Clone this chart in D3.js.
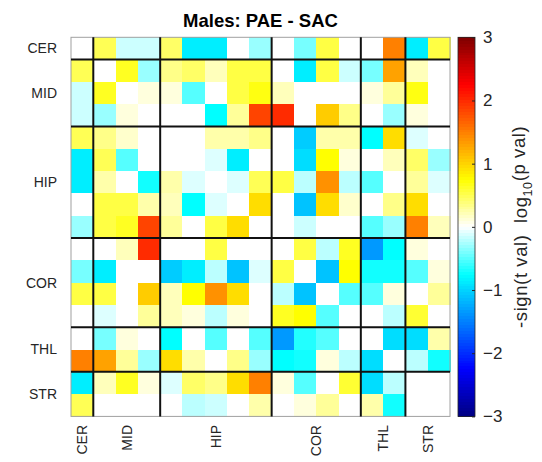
<!DOCTYPE html>
<html>
<head>
<meta charset="utf-8">
<script src="https://cdn.jsdelivr.net/npm/d3@7"></script>
<style>
  body { margin: 0; background: #fff; }
  text { font-family: "Liberation Sans", Arial, sans-serif; }
</style>
</head>
<body>
<svg id="chart" width="542" height="462"></svg>
<script>
// region names and how many rows/cols each one takes
const regions = ["CER", "MID", "HIP", "COR", "THL", "STR"];
const regionSizes = [1, 3, 5, 4, 2, 2];

// -sign(t) log10(p), row by row (17 x 17)
const values = [
  [0, 0.5, -0.15, -0.15, 0.45, -0.85, -0.85, 0, -0.3, 0, -0.4, 0.55, 0, 0, 1.5, -0.85, 0.55],
  [0.5, 0, 0.65, -0.3, 0.35, 0.45, 0.2, 0.55, 0.55, 0, -0.85, 0.55, -0.15, -0.4, 1.3, 0.2, 0],
  [-0.15, 0.65, 0, 0.1, 0.1, -0.5, 0, 0.55, 0.7, 0.2, 0, 0, 0, 0.1, 0.3, 0.7, 0],
  [-0.15, -0.3, 0.1, 0, 0, 0, -0.75, 0.3, 1.85, 2.0, 0, 1.05, 0.35, 0, -0.3, 0.1, 0],
  [0.5, 0.35, 0.15, 0, 0, 0, 0.25, 0.25, 0.35, 0, -1.05, 0.25, 0.25, -0.75, 0.95, -0.1, 0],
  [-0.85, 0.5, -0.5, 0, 0, 0, -0.1, -0.85, 0, 0, -0.95, 0.75, 0.1, 0, 0.2, 0.45, -0.3],
  [-0.85, 0.25, 0, -0.7, 0.25, -0.1, 0, -0.1, 0.5, 0.55, -0.2, 1.4, -0.2, -0.5, 0, 0.3, -0.1],
  [0, 0.55, 0.55, 0.25, 0.2, -0.75, -0.1, 0, 0.95, 0, -1.1, 0.95, 0.15, 0, 0.35, 0.95, 0],
  [-0.3, 0.55, 0.65, 1.85, 0.3, 0, 0.55, 0.95, 0, 0, -0.15, 0, 0, -0.5, -0.3, 1.5, 0.2],
  [0, 0, 0.2, 2.0, 0, 0, 0.55, 0, 0, 0, 0.55, -0.2, 0.65, -1.35, -0.75, 0.1, 0],
  [-0.4, -0.85, 0, 0, -1.05, -0.85, -0.2, -1.1, -0.1, 0.55, 0, -1.1, 0.75, -0.7, -0.7, -0.5, 0.1],
  [0.55, 0.55, 0, 1.05, 0.2, 0.75, 1.4, 0.95, 0, -0.2, -1.1, 0, -0.5, -0.5, 0.1, 0, 0.3],
  [0, -0.1, 0, 0.3, 0.2, 0.1, -0.2, 0.1, 0, 0.65, 0.75, -0.5, 0, 0, -0.2, 0.6, 0],
  [0, -0.4, 0.1, 0, -0.75, 0, -0.5, 0, -0.5, -1.35, -0.65, -0.5, 0, 0, -0.95, -0.95, 0.25],
  [1.5, 1.3, 0.3, -0.3, 0.95, 0.25, 0, 0.35, -0.3, -0.75, -0.7, 0.1, -0.2, -0.95, 0, -0.2, -0.7],
  [-0.85, 0.2, 0.65, 0.1, -0.1, 0.45, 0.35, 0.95, 1.5, 0.1, -0.5, 0, 0.6, -0.95, -0.2, 0, 0],
  [0.5, 0, 0, 0, 0, -0.2, -0.15, 0, 0.25, 0, 0.1, 0.3, 0, 0.25, -0.7, 0, 0]
];

const colorTicks = [-3, -2, -1, 0, 1, 2, 3];

const svg = d3.select("#chart");
const n = values.length;
const plotL = 71, plotR = 450, plotT = 37.3, plotB = 416.4;

const x = d3.scaleBand().domain(d3.range(n)).range([plotL, plotR]);
const y = d3.scaleBand().domain(d3.range(n)).range([plotT, plotB]);

// jet-like map with white in the middle
const color = d3.scaleLinear()
  .domain([-3, -2.25, -0.75, 0, 0.75, 2.25, 3])
  .range(["#000080", "#0000ff", "#00ffff", "#ffffff", "#ffff00", "#ff0000", "#800000"])
  .interpolate(d3.interpolateRgb)
  .clamp(true);

// cells
const cells = [];
values.forEach((row, i) => row.forEach((v, j) => cells.push({ i, j, v })));

svg.append("g")
  .selectAll("rect")
  .data(cells)
  .join("rect")
  .attr("x", d => x(d.j))
  .attr("y", d => y(d.i))
  .attr("width", x.bandwidth() + 0.5)
  .attr("height", y.bandwidth() + 0.5)
  .attr("fill", d => color(d.v))
  .attr("shape-rendering", "crispEdges");

// axes frame
svg.append("rect")
  .attr("x", plotL).attr("y", plotT)
  .attr("width", plotR - plotL).attr("height", plotB - plotT)
  .attr("fill", "none")
  .attr("stroke", "#a0a0a0")
  .attr("stroke-width", 1);

// group boundaries + label positions
const starts = [];
let acc = 0;
regionSizes.forEach(s => { starts.push(acc); acc += s; });
const bounds = starts.slice(1);
const centers = regionSizes.map((s, k) => starts[k] + s / 2);

const gLines = svg.append("g").attr("stroke", "#111").attr("stroke-width", 2);
bounds.forEach(b => {
  const px = x(b), py = y(b);
  gLines.append("line").attr("x1", px).attr("x2", px).attr("y1", plotT).attr("y2", plotB);
  gLines.append("line").attr("x1", plotL).attr("x2", plotR).attr("y1", py).attr("y2", py);
});

// y labels
svg.append("g")
  .selectAll("text")
  .data(regions)
  .join("text")
  .attr("x", 57)
  .attr("y", (d, k) => plotT + centers[k] * y.step())
  .attr("dy", "0.35em")
  .attr("text-anchor", "end")
  .attr("font-size", 14)
  .attr("fill", "#262626")
  .text(d => d);

// x labels (rotated)
svg.append("g")
  .selectAll("text")
  .data(regions)
  .join("text")
  .attr("transform", (d, k) => `translate(${plotL + centers[k] * x.step()},425) rotate(-90)`)
  .attr("dy", "0.35em")
  .attr("text-anchor", "end")
  .attr("font-size", 14)
  .attr("fill", "#262626")
  .text(d => d);

// title
svg.append("text")
  .attr("x", (plotL + plotR) / 2)
  .attr("y", 27)
  .attr("text-anchor", "middle")
  .attr("font-size", 18.5)
  .attr("font-weight", "bold")
  .attr("fill", "#000")
  .text("Males: PAE - SAC");

// colorbar
const cbX = 458, cbW = 17;
const cbScale = d3.scaleLinear().domain([-3, 3]).range([plotB, plotT]);
const steps = 128;
const stepVals = d3.range(steps).map(k => -3 + (k + 0.5) * 6 / steps);
const stepH = (plotB - plotT) / steps;

svg.append("g")
  .selectAll("rect")
  .data(stepVals)
  .join("rect")
  .attr("x", cbX)
  .attr("y", d => cbScale(d) - stepH / 2)
  .attr("width", cbW)
  .attr("height", stepH + 0.4)
  .attr("fill", d => color(d))
  .attr("shape-rendering", "crispEdges");

svg.append("rect")
  .attr("x", cbX).attr("y", plotT)
  .attr("width", cbW).attr("height", plotB - plotT)
  .attr("fill", "none")
  .attr("stroke", "#262626")
  .attr("stroke-width", 0.8);

const cbAxis = svg.append("g")
  .attr("transform", `translate(${cbX + cbW},0)`)
  .call(d3.axisRight(cbScale).tickValues(colorTicks).tickSize(0).tickPadding(8).tickFormat(d3.format("d")));
cbAxis.select(".domain").remove();
cbAxis.selectAll("text")
  .attr("font-size", 17)
  .attr("fill", "#262626")
  .attr("font-family", "Liberation Sans, Arial, sans-serif");
cbAxis.selectAll(".tick")
  .append("line")
  .attr("x1", -3).attr("x2", 0)
  .attr("stroke", "#262626");

// colorbar label with subscript
const lab = svg.append("text")
  .attr("transform", `translate(521,${(plotT + plotB) / 2}) rotate(-90)`)
  .attr("text-anchor", "middle")
  .attr("dy", "0.35em")
  .attr("font-size", 18.5)
  .attr("letter-spacing", 0.6)
  .style("white-space", "pre")
  .attr("fill", "#262626");
lab.append("tspan").text("-sign(t val)  log");
lab.append("tspan").attr("font-size", 12.5).attr("dy", "0.35em").text("10");
lab.append("tspan").attr("dy", "-0.35em").text("(p val)");
</script>
</body>
</html>
